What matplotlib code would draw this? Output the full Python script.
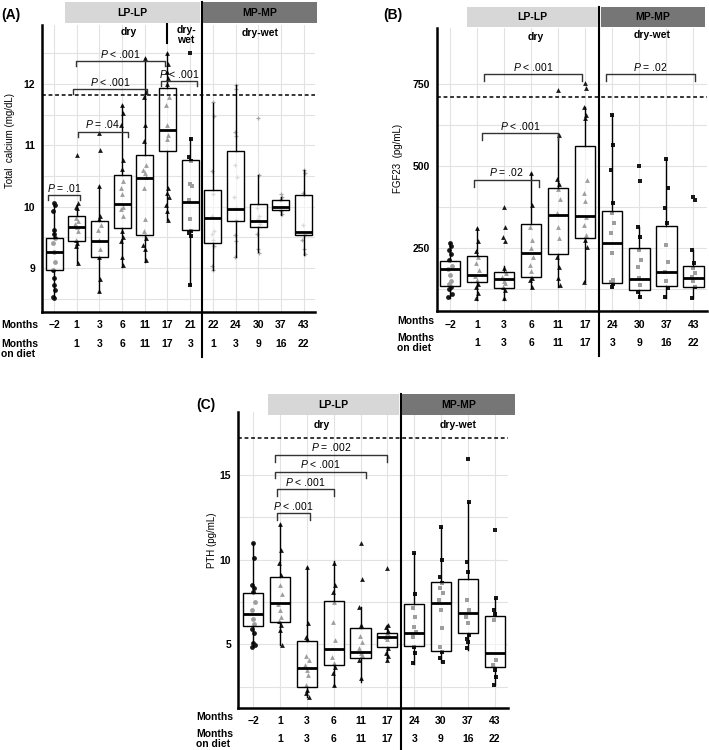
import matplotlib
matplotlib.use("Agg")
import matplotlib.pyplot as plt
import matplotlib.transforms as mtransforms
from matplotlib.patches import Rectangle
from matplotlib.lines import Line2D

plt.rcParams["font.family"] = ["Liberation Sans", "DejaVu Sans"]
plt.rcParams["mathtext.fontset"] = "custom"
plt.rcParams["mathtext.it"] = "Liberation Sans:italic"
plt.rcParams["mathtext.rm"] = "Liberation Sans"

# ---------------- data ----------------
# (A) total calcium
a_months = ["\u22122", "1", "3", "6", "11", "17", "21", "22", "24", "30", "37", "43"]
a_diet = ["", "1", "3", "6", "11", "17", "3", "1", "3", "9", "16", "22"]
a_markers = ["o", "^", "^", "^", "^", "^", "s", "+", "+", "+", "+", "+"]
a_q1 = [8.97, 9.44, 9.18, 9.65, 9.54, 10.90, 9.62, 9.40, 9.77, 9.67, 9.94, 9.54]
a_med = [9.26, 9.66, 9.43, 10.04, 10.46, 11.25, 10.08, 9.81, 9.96, 9.77, 10.00, 9.59]
a_q3 = [9.48, 9.85, 9.77, 10.52, 10.84, 11.94, 10.76, 10.27, 10.90, 10.04, 10.10, 10.19]
a_lo = [8.51, 9.08, 8.60, 9.02, 9.10, 9.78, 8.72, 8.97, 9.18, 9.26, 9.86, 9.21]
a_hi = [10.06, 10.02, 10.33, 11.66, 12.42, 12.50, 11.12, 11.68, 11.98, 10.52, 10.16, 10.60]
a_points = [
    [10.06, 10.02, 9.92, 9.62, 9.56, 9.48, 9.40, 9.26, 9.10, 8.97, 8.83, 8.72, 8.64, 8.53, 8.51],
    [10.84, 10.05, 10.0, 9.97, 9.82, 9.76, 9.72, 9.66, 9.60, 9.45, 9.40, 9.36, 9.08],
    [11.20, 10.92, 10.33, 9.85, 9.80, 9.70, 9.62, 9.45, 9.30, 9.18, 8.82, 8.63],
    [11.66, 11.52, 11.33, 10.76, 10.62, 10.42, 10.30, 10.20, 10.0, 9.96, 9.85, 9.60, 9.50, 9.43, 9.18, 9.05],
    [12.43, 11.86, 11.78, 11.33, 11.07, 10.68, 10.60, 10.55, 10.48, 10.30, 9.80, 9.60, 9.48, 9.38, 9.30, 9.12],
    [12.50, 12.33, 12.20, 12.10, 12.0, 11.78, 11.65, 11.33, 11.17, 11.10, 10.30, 10.22, 10.16, 10.02, 9.92, 9.78],
    [12.50, 11.10, 10.80, 10.75, 10.37, 10.33, 10.10, 9.80, 9.60, 9.57, 9.52, 8.72],
    [11.70, 11.48, 10.58, 10.20, 9.85, 9.60, 9.55, 9.45, 9.35, 9.03, 8.97],
    [11.98, 11.92, 11.22, 11.15, 10.68, 10.48, 10.16, 9.97, 9.78, 9.53, 9.43, 9.18],
    [11.45, 10.52, 9.98, 9.85, 9.80, 9.72, 9.55, 9.30, 9.25],
    [10.20, 10.15, 10.10, 10.0, 9.92, 9.88],
    [10.60, 10.55, 10.22, 10.18, 9.70, 9.55, 9.45, 9.30, 9.22],
]
a_brackets = [(-0.25, 1.15, 10.19, "$\\it{P}$ = .01"),
              (1.04, 3.25, 11.22, "$\\it{P}$ = .04"),
              (0.84, 4.08, 11.91, "$\\it{P}$ < .001"),
              (0.97, 4.89, 12.37, "$\\it{P}$ < .001"),
              (4.71, 6.29, 12.05, "$\\it{P}$ < .001")]

# (B) FGF23
b_months = ["\u22122", "1", "3", "6", "11", "17", "24", "30", "37", "43"]
b_diet = ["", "1", "3", "6", "11", "17", "3", "9", "16", "22"]
b_markers = ["o", "^", "^", "^", "^", "^", "s", "s", "s", "s"]
b_q1 = [134, 147, 129, 161, 232, 280, 142, 122, 134, 132]
b_med = [186, 168, 155, 234, 351, 348, 266, 155, 178, 158]
b_q3 = [210, 226, 177, 323, 432, 561, 363, 249, 317, 195]
b_lo = [98, 91, 91, 128, 132, 147, 132, 101, 97, 97]
b_hi = [265, 311, 195, 479, 595, 681, 655, 315, 523, 244]
b_points = [
    [265, 255, 245, 232, 215, 195, 185, 168, 150, 140, 130, 125, 110, 100],
    [310, 270, 240, 222, 205, 183, 165, 152, 140, 132, 112, 97],
    [376, 315, 285, 270, 190, 175, 163, 150, 142, 130, 122, 97],
    [478, 381, 315, 274, 250, 223, 198, 180, 160, 152, 132],
    [732, 595, 462, 445, 430, 400, 356, 315, 280, 223, 193, 158, 137],
    [752, 737, 681, 655, 647, 457, 417, 392, 345, 320, 290, 274, 254, 147],
    [655, 564, 488, 386, 356, 325, 295, 234, 152, 145, 140, 132],
    [500, 455, 315, 285, 245, 213, 193, 160, 137, 117, 101],
    [523, 432, 371, 325, 259, 208, 178, 150, 127, 101],
    [405, 395, 244, 203, 189, 175, 163, 150, 132, 97],
]
b_brackets = [(0.89, 3.30, 457, "$\\it{P}$ = .02"),
              (1.17, 4.00, 600, "$\\it{P}$ < .001"),
              (1.26, 4.88, 780, "$\\it{P}$ < .001"),
              (5.77, 9.04, 780, "$\\it{P}$ = .02")]

# (C) PTH
c_months = ["\u22122", "1", "3", "6", "11", "17", "24", "30", "37", "43"]
c_diet = ["", "1", "3", "6", "11", "17", "3", "9", "16", "22"]
c_markers = ["o", "^", "^", "^", "^", "^", "s", "s", "s", "s"]
c_q1 = [6.08, 6.30, 2.50, 3.78, 4.17, 4.82, 4.92, 4.62, 5.69, 3.68]
c_med = [6.79, 7.46, 3.62, 4.72, 4.56, 5.41, 5.69, 7.42, 6.87, 4.50]
c_q3 = [8.01, 8.96, 5.21, 7.58, 5.94, 5.65, 7.36, 8.66, 8.86, 6.67]
c_lo = [4.82, 4.96, 1.90, 2.54, 2.79, 4.07, 3.84, 3.97, 4.66, 2.60]
c_hi = [10.97, 12.10, 9.58, 9.90, 7.22, 6.14, 10.37, 11.95, 13.42, 7.72]
c_points = [
    [10.97, 10.10, 8.50, 8.30, 8.10, 7.50, 7.0, 6.50, 6.20, 5.90, 5.65, 5.10, 4.95, 4.85],
    [12.10, 10.57, 9.82, 9.10, 8.50, 8.0, 7.40, 7.0, 6.60, 6.40, 6.14, 5.85, 4.96],
    [9.58, 6.24, 5.45, 5.30, 4.30, 4.07, 3.80, 3.50, 3.20, 2.60, 2.30, 2.10, 1.90],
    [9.82, 8.50, 8.11, 7.52, 6.34, 5.25, 4.27, 3.90, 3.68, 3.29, 2.60],
    [10.97, 8.86, 7.22, 6.14, 5.50, 5.16, 4.77, 4.50, 4.37, 4.07, 3.0],
    [9.49, 6.14, 6.0, 5.80, 5.66, 5.50, 5.45, 5.30, 4.77, 4.50, 4.30, 4.07],
    [10.37, 8.0, 7.14, 6.63, 6.04, 5.70, 5.45, 4.86, 4.47, 3.88],
    [11.95, 9.98, 8.99, 8.60, 8.30, 8.01, 7.62, 7.0, 5.94, 4.86, 4.56, 4.17, 3.97],
    [15.93, 13.42, 9.88, 9.29, 7.62, 7.03, 6.60, 6.24, 5.55, 5.30, 5.16, 4.77],
    [11.75, 7.72, 7.03, 6.80, 6.43, 4.07, 3.80, 3.50, 3.10, 2.60],
]
c_brackets = [(0.87, 2.12, 12.74, "$\\it{P}$ < .001"),
              (0.87, 3.01, 14.15, "$\\it{P}$ < .001"),
              (0.81, 4.20, 15.20, "$\\it{P}$ < .001"),
              (0.81, 4.98, 16.18, "$\\it{P}$ = .002")]

# ---------------- figure ----------------
W, H = 709, 750
fig = plt.figure(figsize=(W / 100, H / 100), dpi=100)


def fx(px):
    return px / W


def fy(py):
    return 1 - py / H


JIT = [0, 0.04, -0.04, 0.02, -0.02, 0.06, -0.06]
DARK = "#1a1a1a"


def panel(box, ylim, xlim, yticks, ygrid, months, diet, markers, q1, med, q3, lo, hi,
          points, brackets, bdepth, dash, divider, rows_y, header_y, ylabel, ylab_xy):
    l, t, r, b = box
    ax = fig.add_axes([fx(l), fy(b), fx(r - l), (b - t) / H])
    n = len(months)
    for i in range(n):
        col = "#a8a8a8" if markers[i] == "+" else DARK
        xs = [i + JIT[k % len(JIT)] for k in range(len(points[i]))]
        ax.scatter(xs, points[i], marker=markers[i], s=12, color=col,
                   linewidths=0.9 if markers[i] == "+" else 0, zorder=2)
    stats = [dict(med=med[i], q1=q1[i], q3=q3[i], whislo=lo[i], whishi=hi[i], fliers=[])
             for i in range(n)]
    ax.bxp(stats, positions=range(n), widths=0.75, patch_artist=True, showfliers=False,
           showcaps=False, manage_ticks=False, zorder=3,
           boxprops=dict(facecolor=(1, 1, 1, 0.58), edgecolor="black", linewidth=1),
           whiskerprops=dict(color="black", linewidth=1),
           medianprops=dict(color="black", linewidth=2, zorder=4))
    ax.set_xlim(*xlim)
    ax.set_ylim(*ylim)
    ax.set_xticks(range(n))
    ax.set_xticklabels([])
    ax.set_yticks(yticks)
    ax.set_yticklabels([str(v) for v in yticks], fontsize=7.5, fontweight="bold")
    ax.set_yticks(ygrid, minor=True)
    ax.tick_params(length=0, which="both", pad=5)
    ax.set_axisbelow(True)
    ax.grid(True, which="both", color="#e2e2e2", linewidth=0.8)
    for s in ["top", "right"]:
        ax.spines[s].set_visible(False)
    for s in ["left", "bottom"]:
        ax.spines[s].set_linewidth(1.8)
    ax.axhline(dash, color="black", linestyle=(0, (2.5, 1.8)), linewidth=1.1, zorder=5)

    # significance brackets
    for x1, x2, y, lab in brackets:
        ax.plot([x1, x1, x2, x2], [y - bdepth, y, y, y - bdepth], color="#333333",
                linewidth=1, clip_on=False, zorder=6)
        ax.text((x1 + x2) / 2, y + bdepth * 0.25, lab, ha="center", va="bottom",
                fontsize=7.5, zorder=6)

    trans = mtransforms.blended_transform_factory(ax.transData, fig.transFigure)
    for i in range(n):
        ax.text(i, fy(rows_y[0]), months[i], transform=trans, ha="center", va="center",
                fontsize=7.5, fontweight="bold")
        ax.text(i, fy(rows_y[1]), diet[i], transform=trans, ha="center", va="center",
                fontsize=7.5, fontweight="bold")
    ax.add_line(Line2D([divider, divider], [fy(header_y), fy(rows_y[1] + 13)],
                       transform=trans, color="black", linewidth=1.5, clip_on=False))
    fig.text(fx(ylab_xy[0]), fy(ylab_xy[1]), ylabel, rotation=90, ha="center",
             va="center", fontsize=7)
    return ax, trans


def header(x0, x1, y0, y1, label, color):
    fig.patches.append(Rectangle((fx(x0), fy(y1)), fx(x1 - x0), (y1 - y0) / H,
                                 transform=fig.transFigure, facecolor=color,
                                 edgecolor="none"))
    fig.text(fx((x0 + x1) / 2), fy((y0 + y1) / 2), label, ha="center", va="center",
             fontsize=7.5, fontweight="bold")


def rowlabels(x, y1, y2):
    fig.text(fx(x), fy(y1), "Months", ha="left", va="center", fontsize=7.5,
             fontweight="bold")
    fig.text(fx(x), fy(y2), "Months\non diet", ha="left", va="center", fontsize=7.5,
             fontweight="bold", linespacing=1.1)


# Panel A
axA, trA = panel((42, 25, 315, 312), (8.28, 12.96), (-0.53, 11.5), [9, 10, 11, 12],
                 [8.5, 9.5, 10.5, 11.5, 12.5], a_months, a_diet, a_markers,
                 a_q1, a_med, a_q3, a_lo, a_hi, a_points, a_brackets, 0.08, 11.82, 6.5,
                 (325, 344), 2, "Total  calcium (mg/dL)", (10, 141))
axA.add_line(Line2D([5, 5], [fy(23), fy(43)], transform=trA, color="black",
                    linewidth=1.5, clip_on=False))
header(65, 200, 2, 23, "LP-LP", "#d7d7d7")
header(203, 317, 2, 23, "MP-MP", "#767676")
fig.text(fx(129), fy(32), "dry", ha="center", va="center", fontsize=7.5, fontweight="bold")
fig.text(fx(186), fy(35), "dry-\nwet", ha="center", va="center", fontsize=7.5,
         fontweight="bold", linespacing=1.1)
fig.text(fx(260), fy(33), "dry-wet", ha="center", va="center", fontsize=7.5,
         fontweight="bold")
fig.text(fx(1), fy(15), "(A)", ha="left", va="center", fontsize=10, fontweight="bold")
rowlabels(1, 325, 349)

# Panel B
axB, trB = panel((437, 28, 707, 311), (58, 921), (-0.48, 9.5), [250, 500, 750],
                 [125, 375, 625], b_months, b_diet, b_markers,
                 b_q1, b_med, b_q3, b_lo, b_hi, b_points, b_brackets, 21, 711, 5.5,
                 (325, 343), 7, "FGF23  (pg/mL)", (398, 158))
header(467, 598, 7, 27, "LP-LP", "#d7d7d7")
header(601, 705, 7, 27, "MP-MP", "#767676")
fig.text(fx(536), fy(37), "dry", ha="center", va="center", fontsize=7.5, fontweight="bold")
fig.text(fx(652), fy(35), "dry-wet", ha="center", va="center", fontsize=7.5,
         fontweight="bold")
fig.text(fx(383), fy(15), "(B)", ha="left", va="center", fontsize=10, fontweight="bold")
rowlabels(397, 321, 343)

# Panel C
axC, trC = panel((238, 412, 508, 708), (1.24, 18.72), (-0.57, 9.5), [5, 10, 15],
                 [2.5, 7.5, 12.5], c_months, c_diet, c_markers,
                 c_q1, c_med, c_q3, c_lo, c_hi, c_points, c_brackets, 0.4, 17.2, 5.5,
                 (721, 739), 394, "PTH (pg/mL)", (212, 540))
header(268, 399, 394, 415, "LP-LP", "#d7d7d7")
header(402, 515, 394, 415, "MP-MP", "#767676")
fig.text(fx(322), fy(425), "dry", ha="center", va="center", fontsize=7.5, fontweight="bold")
fig.text(fx(458), fy(425), "dry-wet", ha="center", va="center", fontsize=7.5,
         fontweight="bold")
fig.text(fx(196), fy(405), "(C)", ha="left", va="center", fontsize=10, fontweight="bold")
rowlabels(196, 717, 739)

fig.savefig("out.png", dpi=100)
